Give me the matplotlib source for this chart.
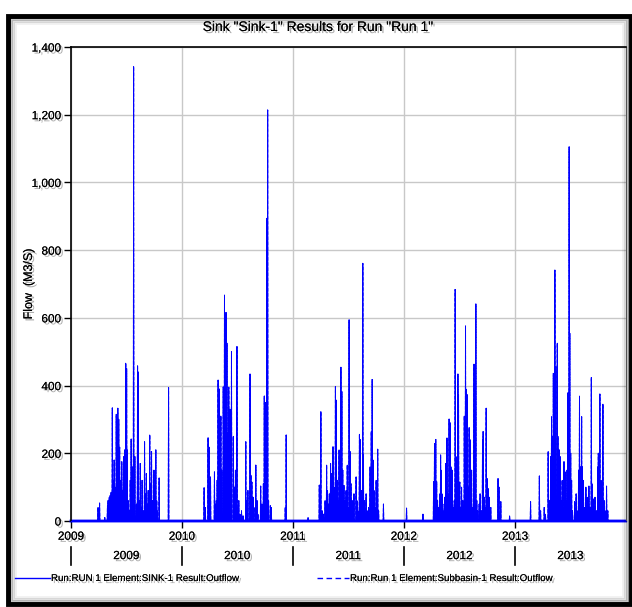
import numpy as np
import pandas as pd
import matplotlib
matplotlib.use('Agg')
import matplotlib.pyplot as plt
import matplotlib.dates as mdates
import matplotlib.patheffects as pe
from matplotlib.lines import Line2D
from matplotlib.patches import Rectangle
from matplotlib.transforms import blended_transform_factory

# Daily outflow peaks: day of year -> flow (M3/S), zero elsewhere
days_2009 = [90, 95, 112, 121, 123, 127, 130, 133, 137, 140, 143, 147, 150, 153, 155, 158,
             161, 165, 168, 171, 174, 178, 181, 184, 186, 189, 193, 196, 199, 202, 205, 207,
             211, 216, 220, 222, 226, 229, 232, 235, 239, 243, 245, 249, 252, 255, 260, 264,
             266, 269, 272, 274, 277, 280, 283, 285, 291, 322]
flow_2009 = [40, 53, 10, 45, 60, 70, 75, 85, 334, 120, 180, 100, 315, 250, 333, 300,
             218, 120, 175, 90, 190, 210, 466, 450, 210, 60, 30, 120, 242, 160, 80, 1342,
             190, 50, 458, 440, 60, 170, 40, 120, 30, 234, 80, 140, 50, 90, 254, 110,
             205, 60, 40, 150, 100, 210, 60, 30, 127, 394]

days_2010 = [74, 78, 87, 90, 95, 108, 111, 114, 117, 120, 123, 126, 129, 132, 137, 141,
             146, 149, 152, 155, 159, 162, 164, 170, 174, 177, 182, 185, 188, 192, 197, 202,
             211, 215, 218, 225, 228, 231, 235, 238, 244, 248, 251, 260, 264, 269, 272, 276,
             280, 283, 286, 292, 295, 341, 344]
flow_2010 = [98, 40, 246, 218, 130, 145, 50, 60, 120, 416, 390, 200, 310, 150, 396, 667,
             616, 525, 260, 395, 330, 180, 500, 250, 100, 150, 515, 40, 60, 20, 30, 15,
             234, 60, 90, 434, 135, 115, 70, 40, 165, 60, 20, 103, 50, 110, 369, 350,
             894, 1214, 60, 45, 40, 40, 254]

days_2011 = [51, 88, 93, 97, 102, 107, 112, 115, 118, 121, 125, 129, 133, 136, 141, 144,
             147, 150, 153, 156, 159, 162, 165, 169, 173, 176, 180, 182, 186, 189, 192, 196,
             199, 202, 209, 212, 215, 220, 223, 227, 231, 233, 237, 242, 245, 250, 255, 259,
             262, 265, 268, 271, 275, 278, 280, 283, 299]
flow_2011 = [10, 106, 323, 30, 20, 60, 165, 90, 50, 80, 170, 140, 219, 100, 397, 357,
             120, 60, 210, 80, 454, 382, 150, 105, 60, 90, 165, 40, 594, 205, 110, 60,
             40, 80, 130, 60, 30, 256, 240, 90, 761, 195, 60, 80, 30, 40, 160, 264,
             418, 180, 90, 40, 120, 50, 212, 30, 50]

days_2012 = [10, 64, 99, 102, 106, 109, 112, 116, 119, 122, 124, 127, 130, 134, 136, 139,
             143, 146, 150, 153, 156, 160, 163, 167, 170, 173, 179, 181, 185, 188, 191, 195,
             200, 204, 207, 210, 213, 216, 219, 224, 227, 232, 234, 238, 241, 244, 249, 252,
             256, 260, 262, 266, 269, 272, 275, 279, 282, 287, 311, 314, 316, 320, 349]
flow_2012 = [38, 20, 116, 229, 241, 116, 60, 40, 80, 195, 150, 80, 30, 50, 70, 170,
             245, 80, 301, 290, 160, 150, 40, 60, 684, 190, 434, 373, 115, 40, 100, 60,
             310, 576, 389, 373, 100, 276, 240, 150, 40, 463, 427, 641, 60, 30, 50, 80,
             30, 240, 264, 70, 40, 333, 125, 95, 70, 40, 125, 100, 20, 57, 15]

days_2013 = [52, 81, 85, 97, 101, 110, 115, 118, 121, 124, 127, 129, 132, 135, 140, 142,
             146, 149, 152, 156, 159, 162, 166, 169, 172, 175, 179, 181, 184, 187, 190, 197,
             202, 207, 210, 213, 217, 220, 222, 226, 229, 234, 238, 244, 248, 252, 254, 258,
             261, 264, 269, 273, 275, 280, 284, 287, 290, 294, 297, 302, 306]
flow_2013 = [57, 133, 30, 40, 20, 205, 60, 190, 308, 250, 436, 300, 741, 456, 525, 250,
             210, 190, 60, 120, 40, 175, 145, 60, 150, 379, 1105, 554, 200, 120, 30, 57,
             80, 30, 150, 369, 160, 308, 160, 120, 40, 100, 70, 103, 40, 424, 110, 65,
             30, 70, 30, 160, 200, 375, 120, 40, 345, 60, 30, 103, 30]

years = [2009, 2010, 2011, 2012, 2013]
year_labels = ['2009', '2010', '2011', '2012', '2013']
y_ticks = [0, 200, 400, 600, 800, 1000, 1200, 1400]

TITLE = 'Sink "Sink-1" Results for Run "Run 1"'
LEGEND_1 = 'Run:RUN 1 Element:SINK-1 Result:Outflow'
LEGEND_2 = 'Run:Run 1 Element:Subbasin-1 Result:Outflow'

plt.rcParams['font.family'] = ['Liberation Sans Narrow', 'Liberation Sans', 'DejaVu Sans']

SHADOW = [pe.withSimplePatchShadow(offset=(1.5, -1.5), shadow_rgbFace='#777777', alpha=0.6),
          pe.Normal()]


def build_series():
    dates = pd.date_range('2009-01-01', '2013-12-31', freq='D')
    flow = np.zeros(len(dates))
    all_days = [days_2009, days_2010, days_2011, days_2012, days_2013]
    all_flow = [flow_2009, flow_2010, flow_2011, flow_2012, flow_2013]
    for year, days, vals in zip(years, all_days, all_flow):
        offset = (pd.Timestamp(year, 1, 1) - dates[0]).days
        for d, v in zip(days, vals):
            flow[offset + d - 1] = v
    return dates, flow


def px(x, y, W=632, H=607):
    return x / W, 1 - y / H


def draw_frame(fig):
    # thick black border with a soft inner shadow
    for i, a in enumerate([0.35, 0.22, 0.12, 0.06]):
        x0, y0 = px(9 + 2 * i, 17 + 2 * i)
        x1, y1 = px(629 - 2 * i, 603 - 2 * i)
        fig.add_artist(Rectangle((x0, y1), x1 - x0, y0 - y1, transform=fig.transFigure,
                                 fill=False, lw=2, ec='black', alpha=a))
    x0, y0 = px(8, 16)
    x1, y1 = px(631, 604)
    fig.add_artist(Rectangle((x0, y1), x1 - x0, y0 - y1, transform=fig.transFigure,
                             fill=False, lw=3.5, ec='black'))


def plot_chart(dates, flow):
    fig = plt.figure(figsize=(6.32, 6.07), dpi=100)
    fig.patch.set_facecolor('white')
    ax = fig.add_axes([71 / 632, 1 - 521 / 607, (626 - 71) / 632, (521 - 47) / 607])

    ax.plot(dates, flow, color='blue', lw=0.7, ls='--', clip_on=False)
    ax.plot(dates, flow, color='blue', lw=0.7, clip_on=False)
    ax.plot(dates, np.zeros(len(dates)), color='blue', lw=2, clip_on=False)

    ax.set_xlim(pd.Timestamp('2009-01-01'), pd.Timestamp('2014-01-01'))
    ax.set_ylim(0, 1400)

    year_starts = [pd.Timestamp(y, 1, 1) for y in years]
    ax.set_xticks(year_starts)
    ax.set_xticklabels(year_labels)
    ax.set_yticks(y_ticks)
    ax.set_yticklabels(['{:,}'.format(v) for v in y_ticks])
    ax.tick_params(axis='both', direction='out', length=5, width=1, color='black',
                   labelsize=8.5, pad=2)
    for lab in ax.get_xticklabels() + ax.get_yticklabels():
        lab.set_path_effects(SHADOW)

    ax.grid(True, color='#c8c8c8', lw=1)
    ax.set_axisbelow(True)
    for side in ['top', 'left']:
        ax.spines[side].set_color('black')
        ax.spines[side].set_linewidth(1.2)
    ax.spines['right'].set_color('#777777')
    ax.spines['bottom'].set_color('blue')

    # second row of year labels, centred on each year
    trans = blended_transform_factory(ax.transData, ax.transAxes)
    for y, lab in zip(years, year_labels):
        start = mdates.date2num(pd.Timestamp(y, 1, 1))
        mid = mdates.date2num(pd.Timestamp(y, 7, 2))
        ax.plot([start, start], [-0.055, -0.093], color='black', lw=1.2,
                transform=trans, clip_on=False)
        ax.text(mid, -0.074, lab, transform=trans, ha='center', va='center',
                fontsize=8.5, path_effects=SHADOW)

    ax.set_ylabel('Flow  (M3/S)', fontsize=9, path_effects=SHADOW)
    ax.yaxis.set_label_coords((35 - 71) / 555, 0.5)
    fig.text(318 / 632, 1 - 27 / 607, TITLE, ha='center', va='center', fontsize=10,
             path_effects=SHADOW)

    # legend row
    ly = 1 - 578 / 607
    fig.add_artist(Line2D([15 / 632, 50 / 632], [ly, ly], color='blue', lw=1,
                          transform=fig.transFigure))
    fig.text(51 / 632, ly, LEGEND_1, ha='left', va='center', fontsize=7,
             path_effects=SHADOW)
    fig.add_artist(Line2D([317 / 632, 349 / 632], [ly, ly], color='blue', lw=1,
                          ls=(0, (4, 2.5)), transform=fig.transFigure))
    fig.text(350 / 632, ly, LEGEND_2, ha='left', va='center', fontsize=7,
             path_effects=SHADOW)

    draw_frame(fig)
    fig.savefig('out.png', dpi=100)


def main():
    dates, flow = build_series()
    plot_chart(dates, flow)


if __name__ == '__main__':
    main()
